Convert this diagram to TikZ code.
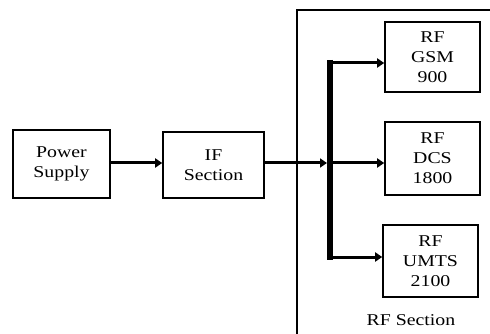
\documentclass[tikz,border=0pt]{standalone}
\usepackage{fontspec}
\setmainfont[FakeStretch=1.2]{Liberation Serif}
\usetikzlibrary{arrows.meta,calc}
\begin{document}
\begin{tikzpicture}[x=1pt,y=-1pt,
  blk/.style={draw,line width=1.6pt,inner sep=0pt,align=center,font=\fontsize{16.5}{20}\selectfont},
  conn/.style={line width=3pt,-{Triangle[length=7pt,width=9pt]}},
  busline/.style={line width=6pt}]
\useasboundingbox (0,0) rectangle (490,334);
\fill[white] (0,0) rectangle (490,334);
% outer RF section frame (right and bottom run off the picture)
\draw[line width=1.2pt] (297,340) -- (297,10) -- (495,10);
\node[blk,minimum width=97pt,minimum height=68pt] (ps) at (61.5,164) {Power\\Supply};
\node[blk,minimum width=101pt,minimum height=66pt] (if) at (213.5,165) {IF\\Section};
\node[blk,minimum width=95pt,minimum height=70pt] (gsm) at (432.5,57) {RF\\GSM\\900};
\node[blk,minimum width=95pt,minimum height=73pt] (dcs) at (432.5,158.5) {RF\\DCS\\1800};
\node[blk,minimum width=95pt,minimum height=72pt] (umts) at (430.5,261) {RF\\UMTS\\2100};
\node[font=\fontsize{16.5}{20}\selectfont] (rfs) at (411,320) {RF Section};
\coordinate (btop) at (330,63);
\coordinate (bmid) at (330,163);
\coordinate (bbot) at (330,257);
\draw[conn] (ps.east |- 0,163) -- (if.west |- 0,163);
\draw[conn] (if.east |- 0,163) -- ($(bmid)+(-3,0)$);
\draw[busline] ($(btop)+(0,-3)$) -- ($(bbot)+(0,3)$);
\draw[conn] (btop) -- (btop -| gsm.west);
\draw[conn] (bmid) -- (bmid -| dcs.west);
\draw[conn] (bbot) -- (bbot -| umts.west);
\end{tikzpicture}
\end{document}
